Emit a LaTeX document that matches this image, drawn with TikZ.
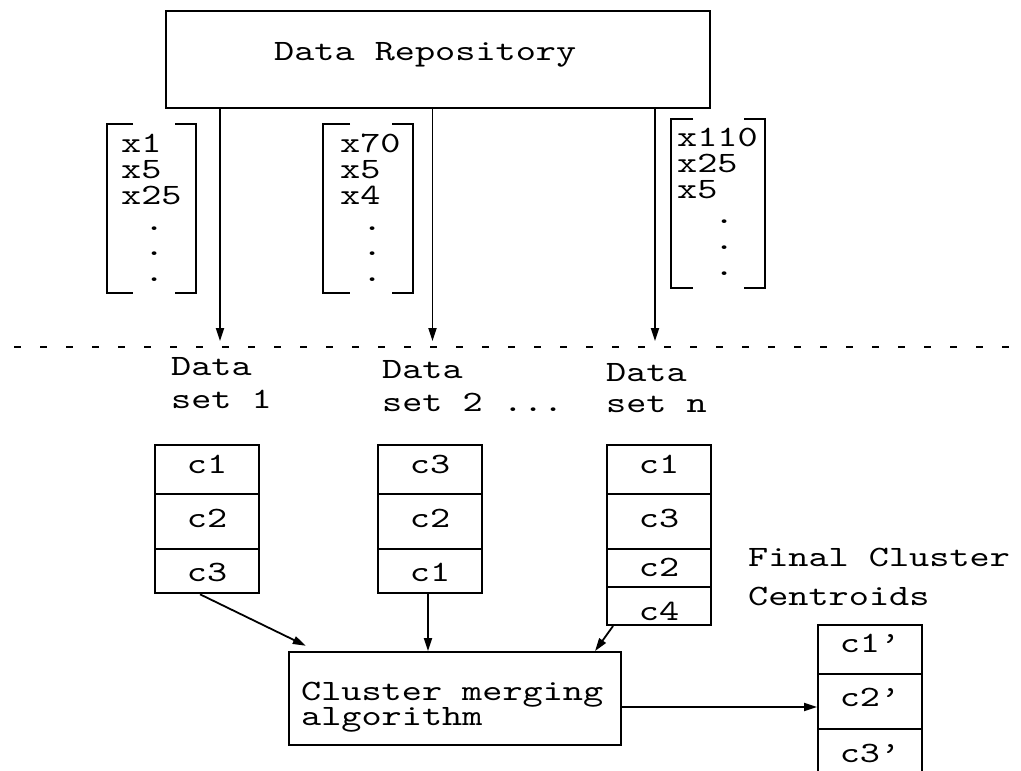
\documentclass[tikz,border=0pt]{standalone}
\usepackage{fontspec}
\newfontfamily\courfont{lmmono10-regular}[Extension=.otf,FakeStretch=1.3]
\usetikzlibrary{arrows.meta,calc}
\newcommand\fs{\courfont\fontsize{29.5}{29.5}\selectfont}
\newcommand\mylines[2]{\vtop{\baselineskip=#1\lineskiplimit=-100pt\lineskip=0pt #2}}
\begin{document}
\begin{tikzpicture}[x=1pt,y=-1pt,
  lw/.style={line width=1.9pt},
  box/.style={draw,line width=1.9pt,inner sep=0pt},
  cell/.style={draw,line width=1.9pt,inner sep=0pt,minimum width=104pt,text depth=0pt,font=\fs},
  txt/.style={anchor=base west,inner sep=0pt,font=\fs},
  arr/.style={line width=1.8pt,-{Triangle[length=13pt,width=8pt]}}]
\useasboundingbox (0,0) rectangle (1021,771);
\clip (0,0) rectangle (1021,771);

% Data repository
\node[box,minimum width=544pt,minimum height=97.6pt] (repo) at (438,59.5) {};
\node[txt] (repotxt) at (274,60) {Data Repository};

% vectors
\node[txt] (v1) at (121,152.7) {\mylines{25.8pt}{\hbox{x1}\hbox{x5}\hbox{x25}\hbox{\hskip23pt.}\hbox{\hskip23pt.}\hbox{\hskip23pt.}}};
\node[txt] (v2) at (340,152.7) {\mylines{25.8pt}{\hbox{x70}\hbox{x5}\hbox{x4}\hbox{\hskip22pt.}\hbox{\hskip22pt.}\hbox{\hskip22pt.}}};
\node[txt] (v3) at (677,146.7) {\mylines{25.7pt}{\hbox{x110}\hbox{x25}\hbox{x5}\hbox{\hskip37pt.}\hbox{\hskip37pt.}\hbox{\hskip37pt.}}};

% brackets
\draw[lw] (133,124) -| (107,293) -- (133,293);
\draw[lw] (175,124) -| (196,293) -- (175,293);
\draw[lw] (350,124) -| (323,293) -- (350,293);
\draw[lw] (392,124) -| (413,293) -- (392,293);
\draw[lw] (693,119) -| (671,288) -- (693,288);
\draw[lw] (744,119) -| (765,288) -- (744,288);

% arrows from repository
\coordinate (t1) at (220,341);
\coordinate (t2) at (432.5,341);
\coordinate (t3) at (655,341);
\draw[arr] (repo.south -| t1) -- (t1);
\draw[arr] (repo.south -| t2) -- (t2);
\draw[arr] (repo.south -| t3) -- (t3);

% dashed separator
\coordinate (dl) at (14,347);
\coordinate (dr) at (1015,347);
\draw[line width=1.8pt,dash pattern=on 6.5pt off 19.5pt] (dl) -- (dr);

% data set labels
\node[txt] (ds1) at (171,375) {\mylines{33.3pt}{\hbox{Data}\hbox{set 1}}};
\node[txt] (ds2) at (382,378) {\mylines{33.3pt}{\hbox{Data}\hbox{set 2 ...}}};
\node[txt] (dsn) at (606,381) {\mylines{31.7pt}{\hbox{Data}\hbox{set n}}};

% cluster boxes
\node[cell,minimum height=49.3pt,text height=7.2pt] (a1) at (207,469.7) {c1};
\node[cell,minimum height=54.7pt,text height=11.2pt] (a2) at (207,521.7) {c2};
\node[cell,minimum height=44.3pt,text height=21pt] (a3) at (207,571.2) {c3};

\node[cell,minimum height=49.3pt,text height=7.2pt] (b1) at (430,469.7) {c3};
\node[cell,minimum height=54.7pt,text height=11.2pt] (b2) at (430,521.7) {c2};
\node[cell,minimum height=44.3pt,text height=21pt] (b3) at (430,571.2) {c1};

\node[cell,minimum height=49.3pt,text height=7.2pt] (n1) at (659,469.7) {c1};
\node[cell,minimum height=54.7pt,text height=11.2pt] (n2) at (659,521.7) {c3};
\node[cell,minimum height=38.3pt,text height=17pt] (n3) at (659,568.2) {c2};
\node[cell,minimum height=37.7pt,text height=27.6pt] (n4) at (659,606.2) {c4};

% merging box
\node[box,minimum width=332pt,minimum height=93pt] (merge) at (455,698.5) {};
\node[txt] (mergetxt) at (301,700.7) {\mylines{24.3pt}{\hbox{Cluster merging}\hbox{algorithm}}};

\draw[arr] ($(a3.south)+(-7,0)$) -- ($(merge.north west)+(17.7,-5.3)$);
\draw[arr] (b3.south -| 428,0) -- (merge.north -| 428,0);
\draw[arr] ($(n4.south west)+(7,0)$) -- ($(merge.north west)+(307,0)$);

% final centroids
\node[txt] (fintxt) at (748,566) {\mylines{39pt}{\hbox{Final Cluster}\hbox{Centroids}}};
\node[cell,minimum height=49pt,text height=6.4pt] (f1) at (870,649.5) {c1’};
\node[cell,minimum height=55pt,text height=10.4pt] (f2) at (870,701.5) {c2’};
\node[cell,minimum height=56pt,text height=11.4pt] (f3) at (870,757) {c3’};

\coordinate (fa) at ($(f2.west)+(0,5.5)$);
\draw[arr] (merge.east |- fa) -- (fa);
\end{tikzpicture}
\end{document}
